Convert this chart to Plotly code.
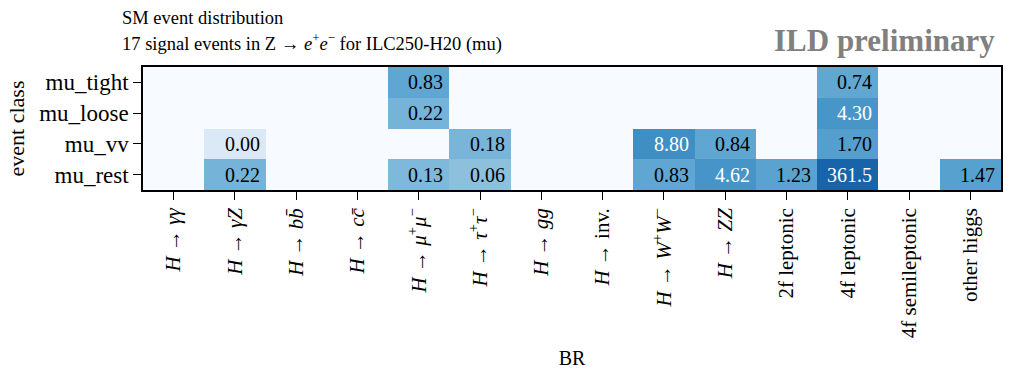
import numpy as np
import plotly.graph_objects as go
import plotly.express as px

categories = [
    "<i>H</i> → <i>γγ</i>", "<i>H</i> → <i>γZ</i>", "<i>H</i> → <i>bb̄</i>", "<i>H</i> → <i>cc̄</i>",
    "<i>H</i> → <i>μ</i><sup>+</sup><i>μ</i><sup>−</sup>", "<i>H</i> → <i>τ</i><sup>+</sup><i>τ</i><sup>−</sup>",
    "<i>H</i> → <i>gg</i>", "<i>H</i> → inv.", "<i>H</i> → <i>W</i><sup>+</sup><i>W</i><sup>−</sup>",
    "<i>H</i> → <i>ZZ</i>", "2f leptonic", "4f leptonic", "4f semileptonic", "other higgs",
]
event_classes = ["mu_tight", "mu_loose", "mu_vv", "mu_rest"]

mu_tight = [0, 0, 0, 0, 0.83, 0, 0, 0, 0, 0, 0, 0.74, 0, 0]
mu_loose = [0, 0, 0, 0, 0.22, 0, 0, 0, 0, 0, 0, 4.30, 0, 0]
mu_vv    = [0, 0.0001, 0, 0, 0, 0.18, 0, 0, 8.80, 0.84, 0, 1.70, 0, 0]
mu_rest  = [0, 0.22, 0, 0, 0.13, 0.06, 0, 0, 0.83, 4.62, 1.23, 361.5, 0, 1.47]

values = np.array([mu_tight, mu_loose, mu_vv, mu_rest], dtype=float)

ZMIN, ZMAX = -5.4, 4.55
with np.errstate(divide="ignore"):
    z = np.where(values > 0, np.log10(np.where(values > 0, values, 1)), ZMIN)

FONT = "Liberation Serif"
fig = go.Figure()
fig.add_trace(go.Heatmap(
    z=z, x=list(range(len(categories))), y=list(range(len(event_classes))),
    colorscale=px.colors.sequential.Blues, zmin=ZMIN, zmax=ZMAX,
    showscale=False, hoverinfo="skip", xgap=0, ygap=0,
))

annotations = []
for r in range(values.shape[0]):
    for c in range(values.shape[1]):
        v = values[r, c]
        if v <= 0:
            continue
        t = (z[r, c] - ZMIN) / (ZMAX - ZMIN)
        txt = f"{v:.1f}" if v >= 100 else f"{v:.2f}"
        annotations.append(dict(
            x=c + 0.5, y=r, xref="x", yref="y", text=txt, showarrow=False,
            xanchor="right", yanchor="middle", xshift=-4,
            font=dict(family=FONT, size=20, color="white" if t > 0.6 else "black"),
        ))

TITLE_X = -23 / 858
annotations.append(dict(
    x=1.0, y=1.0, xref="paper", yref="paper", xanchor="right", yanchor="bottom",
    xshift=-4, yshift=7, text="<b>ILD preliminary</b>", showarrow=False,
    font=dict(family=FONT, size=31, color="#808080"),
))
annotations.append(dict(
    x=TITLE_X, y=1.0, xref="paper", yref="paper", xanchor="left", yanchor="middle",
    yshift=49, text="SM event distribution", showarrow=False,
    font=dict(family=FONT, size=18.5, color="black"),
))
annotations.append(dict(
    x=TITLE_X, y=1.0, xref="paper", yref="paper", xanchor="left", yanchor="middle",
    yshift=25,
    text="17 signal events in Z → <i>e</i><sup>+</sup><i>e</i><sup>−</sup> for ILC250-H20 (mu)",
    showarrow=False, font=dict(family=FONT, size=18.5, color="black"),
))

fig.update_layout(
    width=1009, height=372,
    margin=dict(l=143, r=8, t=67, b=182, autoexpand=False),
    paper_bgcolor="white", plot_bgcolor="white",
    font=dict(family=FONT, size=20, color="black"),
    annotations=annotations,
)
fig.update_xaxes(
    tickmode="array", tickvals=list(range(len(categories))), ticktext=categories,
    tickangle=-90, ticks="outside", ticklen=8, tickwidth=1.3, tickcolor="black",
    showline=True, linecolor="black", linewidth=1.5, mirror=True, automargin=False,
    showgrid=False, zeroline=False, range=[-0.5, len(categories) - 0.5],
    title=dict(text="BR", standoff=14, font=dict(family=FONT, size=20)),
    tickfont=dict(family=FONT, size=21),
)
fig.update_yaxes(
    tickmode="array", tickvals=list(range(len(event_classes))), ticktext=event_classes,
    ticks="outside", ticklen=8, tickwidth=1.3, tickcolor="black",
    showline=True, linecolor="black", linewidth=1.5, mirror=True, automargin=False,
    showgrid=False, zeroline=False, range=[len(event_classes) - 0.5, -0.5],
    title=dict(text="event class", standoff=8, font=dict(family=FONT, size=22)),
    tickfont=dict(family=FONT, size=23),
)

fig.write_html(
    "out.html",
    config={"displayModeBar": False},
    post_script="document.body.style.margin='0';document.body.style.overflow='hidden';",
)
